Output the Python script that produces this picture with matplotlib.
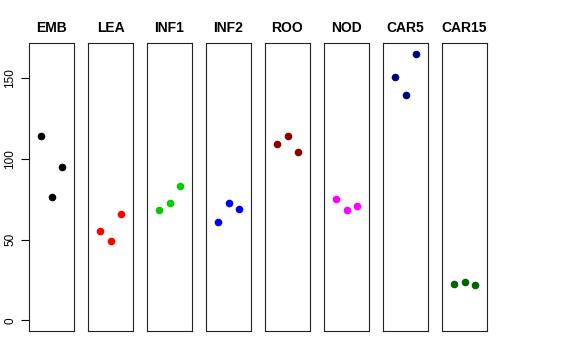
import numpy as np
import matplotlib.pyplot as plt

plt.rcParams['font.family'] = ['Liberation Sans', 'DejaVu Sans']

groups = ["EMB", "LEA", "INF1", "INF2", "ROO", "NOD", "CAR5", "CAR15"]
vals = [
    [114, 76.5, 95],
    [55, 49, 66],
    [68.5, 72.5, 83],
    [61, 72.5, 69],
    [109, 114, 104],
    [75, 68.5, 70.5],
    [150.5, 139.5, 165],
    [22.5, 23.5, 22],
]
cols = ["black", "red", "#00CD00", "blue", "#8B0000", "magenta", "#000080", "#006400"]
yticks = [0, 50, 100, 150]

fig = plt.figure(figsize=(5.76, 3.6), dpi=100)
x = np.arange(1, 4)
for i, g in enumerate(groups):
    ax = fig.add_axes([(29 + 59 * i) / 576, 29 / 360, 45 / 576, 288 / 360])
    ax.scatter(x, vals[i], s=20, color=cols[i], zorder=3)
    ax.set_xlim(-0.16, 4.16)
    ax.set_ylim(-6.6, 171.6)
    ax.set_xticks([])
    ax.set_title(g, fontsize=10, fontweight="bold", pad=8)
    for s in ax.spines.values():
        s.set_linewidth(0.8)
        s.set_color("#222222")
    if i == 0:
        ax.set_yticks(yticks)
        ax.tick_params(axis="y", labelsize=8.5, length=6, width=0.8, pad=3)
        plt.setp(ax.get_yticklabels(), rotation=90, va="center")
    else:
        ax.set_yticks([])

fig.savefig("out.png", dpi=100)
